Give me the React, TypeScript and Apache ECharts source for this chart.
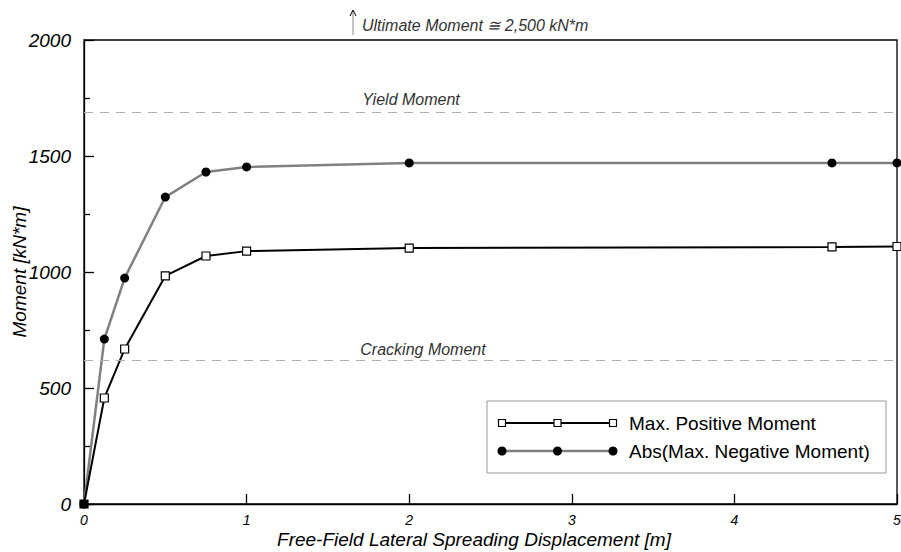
import React, { useEffect, useRef } from "react";
import * as echarts from "echarts";

const displacement = [0, 0.125, 0.25, 0.5, 0.75, 1, 2, 4.6, 5];
const positiveMoment = [0, 457, 668, 983, 1069, 1090, 1103, 1108, 1110];
const negativeMoment = [0, 711, 974, 1323, 1431, 1453, 1470, 1470, 1470];
const seriesNames = ["Max. Positive Moment", "Abs(Max. Negative Moment)"];
const crackingMoment = 620;
const yieldMoment = 1690;
const ultimateLabel = "Ultimate Moment \u2245 2,500 kN*m";

const FONT = "Liberation Sans, Arial, sans-serif";

export default function App() {
  const ref = useRef<HTMLDivElement>(null);
  useEffect(() => {
    const chart = echarts.init(ref.current!, undefined, { renderer: "svg" });
    const refLine = (v: number) => ({ yAxis: v });
    chart.setOption({
      animation: false,
      grid: { left: 84, right: 4, top: 40, bottom: 48, containLabel: false, outerBoundsMode: "none", show: true, borderColor: "#000", borderWidth: 1.3, backgroundColor: "transparent" },
      xAxis: {
        type: "value", min: 0, max: 5, interval: 1,
        name: "Free-Field Lateral Spreading Displacement [m]",
        nameLocation: "middle", nameGap: 26, nameMoveOverlap: false,
        nameTextStyle: { fontFamily: FONT, fontStyle: "italic", fontSize: 19, color: "#000", padding: [0, 33, 0, 0] },
        axisLine: { lineStyle: { color: "#000", width: 1.3 } },
        axisTick: { inside: true, length: 10, lineStyle: { color: "#000", width: 1.3 } },
        axisLabel: { fontFamily: FONT, fontStyle: "italic", fontSize: 14, color: "#000", margin: 9, formatter: (v: number) => String(v) },
        splitLine: { show: false },
      },
      yAxis: {
        type: "value", min: 0, max: 2000, interval: 500,
        name: "Moment [kN*m]",
        nameLocation: "middle", nameGap: 55, nameMoveOverlap: false,
        nameTextStyle: { fontFamily: FONT, fontStyle: "italic", fontSize: 19, color: "#000" },
        axisLine: { show: true, lineStyle: { color: "#000", width: 1.3 } },
        axisTick: { inside: true, length: 10, lineStyle: { color: "#000", width: 1.3 } },
        minorTick: { show: true, splitNumber: 2, length: 6, lineStyle: { color: "#000", width: 1.3 } },
        axisLabel: { fontFamily: FONT, fontStyle: "italic", fontSize: 19, color: "#000", margin: 13, formatter: (v: number) => String(v) },
        splitLine: { show: false },
      },
      series: [
        {
          name: seriesNames[1], type: "line",
          data: displacement.map((x, i) => [x, negativeMoment[i]]),
          symbol: "circle", symbolSize: 9,
          itemStyle: { color: "#000" },
          lineStyle: { color: "#808080", width: 2.5 },
          z: 3,
          markLine: {
            silent: true, symbol: "none",
            lineStyle: { color: "#b0b0b0", type: [9, 7], width: 1 },
            label: { show: false },
            data: [refLine(crackingMoment), refLine(yieldMoment)],
          },
        },
        {
          name: seriesNames[0], type: "line",
          data: displacement.map((x, i) => i === 0
            ? { value: [x, positiveMoment[i]], itemStyle: { color: "#000" } }
            : [x, positiveMoment[i]]),
          symbol: "rect", symbolSize: 8,
          itemStyle: { color: "#fff", borderColor: "#000", borderWidth: 1.2 },
          lineStyle: { color: "#000", width: 2 },
          z: 4,
        },
      ],
    });

    const yC = chart.convertToPixel({ gridIndex: 0 }, [0, crackingMoment])[1];
    const yY = chart.convertToPixel({ gridIndex: 0 }, [0, yieldMoment])[1];
    const txt = { fontFamily: FONT, fontStyle: "italic", fontSize: 16, fill: "#333" };
    const lx = 502, mx = 557.5, rx = 613;
    chart.setOption({
      graphic: [
        { type: "text", x: 411, y: yY - 4, style: { ...txt, text: "Yield Moment", align: "center", verticalAlign: "bottom" } },
        { type: "text", x: 423, y: yC - 3, style: { ...txt, text: "Cracking Moment", align: "center", verticalAlign: "bottom" } },
        { type: "line", shape: { x1: 353, y1: 35, x2: 353, y2: 11 }, style: { stroke: "#999", lineWidth: 1.2 } },
        { type: "polyline", shape: { points: [[350, 16], [353, 10], [356, 16]] }, style: { stroke: "#000", lineWidth: 1, fill: "none" } },
        { type: "text", x: 362, y: 25, style: { ...txt, text: ultimateLabel, align: "left", verticalAlign: "middle" } },
        { type: "rect", shape: { x: 487, y: 401, width: 399, height: 72 }, style: { fill: "#fff", stroke: "#999", lineWidth: 1 }, z: 10 },
        { type: "line", shape: { x1: lx, y1: 423, x2: rx, y2: 423 }, style: { stroke: "#000", lineWidth: 2 }, z: 11 },
        ...[lx, mx, rx].map((x) => ({ type: "rect", shape: { x: x - 3.5, y: 419.5, width: 7, height: 7 }, style: { fill: "#fff", stroke: "#000", lineWidth: 1.2 }, z: 12 })),
        { type: "text", x: 629, y: 423, style: { fontFamily: FONT, fontSize: 19, fill: "#000", text: seriesNames[0], verticalAlign: "middle" }, z: 12 },
        { type: "line", shape: { x1: lx, y1: 451, x2: rx, y2: 451 }, style: { stroke: "#808080", lineWidth: 2.5 }, z: 11 },
        ...[lx, mx, rx].map((x) => ({ type: "circle", shape: { cx: x, cy: 451, r: 4.5 }, style: { fill: "#000" }, z: 12 })),
        { type: "text", x: 629, y: 451, style: { fontFamily: FONT, fontSize: 19, fill: "#000", text: seriesNames[1], verticalAlign: "middle" }, z: 12 },
      ],
    });
    return () => chart.dispose();
  }, []);
  return <div ref={ref} style={{ width: 901, height: 552, position: "absolute", left: 0, top: 0, background: "#fff" }} />;
}
